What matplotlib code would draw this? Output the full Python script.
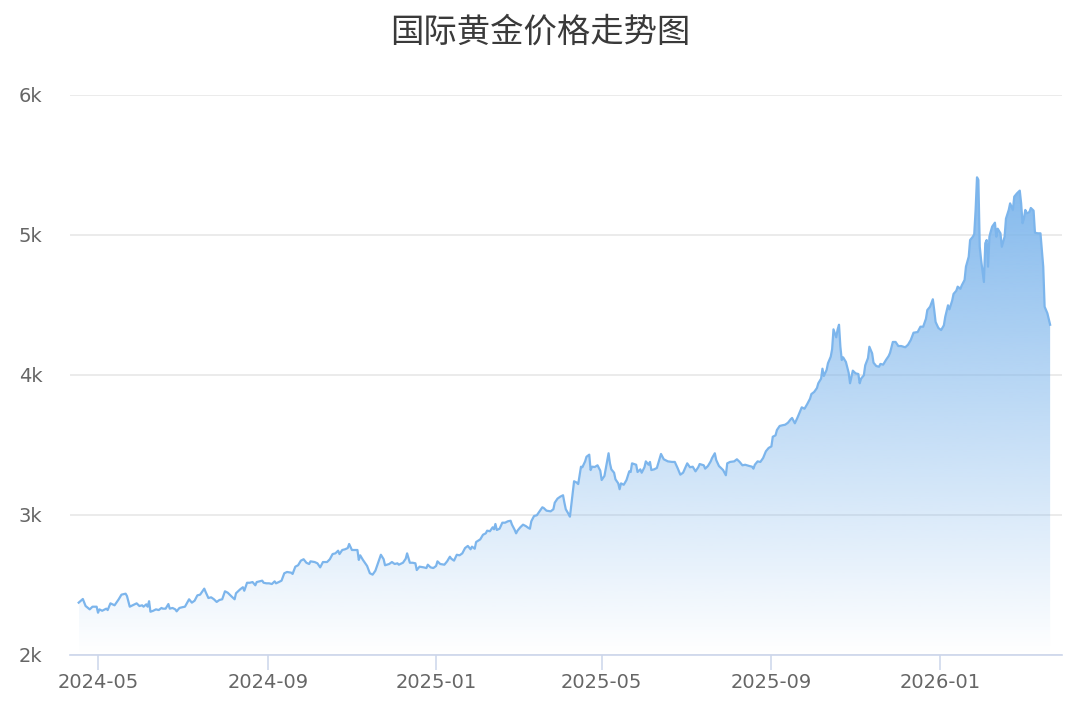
import numpy as np
import pandas as pd
import matplotlib
matplotlib.use('Agg')
import matplotlib.pyplot as plt
import matplotlib.dates as mdates
from matplotlib.patches import PathPatch

plt.rcParams['font.family'] = ['Noto Sans CJK SC', 'DejaVu Sans']

# 国际金价 (美元/盎司), values
dates = [
    "2024-04-17", "2024-04-20", "2024-04-22", "2024-04-25", "2024-04-27", "2024-04-30",
    "2024-05-01", "2024-05-02", "2024-05-04", "2024-05-07", "2024-05-08", "2024-05-10", "2024-05-13", "2024-05-15", "2024-05-16", "2024-05-18", "2024-05-21", "2024-05-22", "2024-05-24", "2024-05-27", "2024-05-29", "2024-05-31",
    "2024-06-02", "2024-06-03", "2024-06-05", "2024-06-06", "2024-06-07", "2024-06-08", "2024-06-10", "2024-06-12", "2024-06-14", "2024-06-16", "2024-06-17", "2024-06-19", "2024-06-21", "2024-06-22", "2024-06-24", "2024-06-26", "2024-06-27", "2024-06-29",
    "2024-07-01", "2024-07-03", "2024-07-06", "2024-07-08", "2024-07-10", "2024-07-12", "2024-07-14", "2024-07-17", "2024-07-18", "2024-07-20", "2024-07-22", "2024-07-24", "2024-07-26", "2024-07-28", "2024-07-30",
    "2024-08-01", "2024-08-03", "2024-08-06", "2024-08-08", "2024-08-09", "2024-08-12", "2024-08-14", "2024-08-15", "2024-08-17", "2024-08-19", "2024-08-21", "2024-08-23", "2024-08-24", "2024-08-26", "2024-08-28", "2024-08-29", "2024-08-31",
    "2024-09-02", "2024-09-04", "2024-09-06", "2024-09-07", "2024-09-09", "2024-09-11", "2024-09-13", "2024-09-15", "2024-09-18", "2024-09-19", "2024-09-21", "2024-09-23", "2024-09-25", "2024-09-27", "2024-09-29",
    "2024-10-01", "2024-10-02", "2024-10-05", "2024-10-07", "2024-10-09", "2024-10-11", "2024-10-14", "2024-10-16", "2024-10-18", "2024-10-20", "2024-10-22", "2024-10-23", "2024-10-25", "2024-10-27", "2024-10-29", "2024-10-30",
    "2024-11-01", "2024-11-03", "2024-11-05", "2024-11-06", "2024-11-07", "2024-11-09", "2024-11-12", "2024-11-14", "2024-11-16", "2024-11-18", "2024-11-20", "2024-11-22", "2024-11-24", "2024-11-25", "2024-11-28", "2024-11-30",
    "2024-12-02", "2024-12-04", "2024-12-05", "2024-12-08", "2024-12-10", "2024-12-11", "2024-12-13", "2024-12-15", "2024-12-17", "2024-12-18", "2024-12-20", "2024-12-23", "2024-12-25", "2024-12-26", "2024-12-28", "2024-12-30",
    "2025-01-01", "2025-01-02", "2025-01-04", "2025-01-07", "2025-01-09", "2025-01-11", "2025-01-12", "2025-01-14", "2025-01-16", "2025-01-18", "2025-01-20", "2025-01-22", "2025-01-24", "2025-01-26", "2025-01-27", "2025-01-29", "2025-01-30",
    "2025-02-02", "2025-02-04", "2025-02-06", "2025-02-07", "2025-02-09", "2025-02-11", "2025-02-12", "2025-02-13", "2025-02-14", "2025-02-16", "2025-02-18", "2025-02-20", "2025-02-22", "2025-02-24", "2025-02-25", "2025-02-27", "2025-02-28",
    "2025-03-01", "2025-03-03", "2025-03-05", "2025-03-07", "2025-03-09", "2025-03-10", "2025-03-11", "2025-03-13", "2025-03-15", "2025-03-17", "2025-03-19", "2025-03-20", "2025-03-22", "2025-03-25", "2025-03-27", "2025-03-28", "2025-03-30",
    "2025-04-01", "2025-04-03", "2025-04-04", "2025-04-05", "2025-04-07", "2025-04-08", "2025-04-10", "2025-04-11", "2025-04-13", "2025-04-14", "2025-04-16", "2025-04-17", "2025-04-19", "2025-04-20", "2025-04-22", "2025-04-23", "2025-04-24", "2025-04-26", "2025-04-28", "2025-04-30",
    "2025-05-01", "2025-05-03", "2025-05-06", "2025-05-07", "2025-05-08", "2025-05-10", "2025-05-11", "2025-05-13", "2025-05-14", "2025-05-15", "2025-05-17", "2025-05-19", "2025-05-21", "2025-05-22", "2025-05-23", "2025-05-26", "2025-05-27", "2025-05-29", "2025-05-30",
    "2025-06-01", "2025-06-02", "2025-06-04", "2025-06-05", "2025-06-06", "2025-06-08", "2025-06-10", "2025-06-13", "2025-06-15", "2025-06-18", "2025-06-21", "2025-06-23", "2025-06-25", "2025-06-27", "2025-06-29",
    "2025-07-02", "2025-07-04", "2025-07-06", "2025-07-08", "2025-07-10", "2025-07-11", "2025-07-14", "2025-07-15", "2025-07-17", "2025-07-19", "2025-07-20", "2025-07-22", "2025-07-23", "2025-07-25", "2025-07-27", "2025-07-28", "2025-07-30", "2025-07-31",
    "2025-08-02", "2025-08-05", "2025-08-07", "2025-08-09", "2025-08-11", "2025-08-13", "2025-08-16", "2025-08-18", "2025-08-19", "2025-08-20", "2025-08-22", "2025-08-24", "2025-08-26", "2025-08-28", "2025-08-30",
    "2025-09-01", "2025-09-02", "2025-09-04", "2025-09-05", "2025-09-07", "2025-09-09", "2025-09-11", "2025-09-13", "2025-09-15", "2025-09-16", "2025-09-18", "2025-09-20", "2025-09-22", "2025-09-23", "2025-09-25", "2025-09-27", "2025-09-29", "2025-09-30",
    "2025-10-02", "2025-10-04", "2025-10-05", "2025-10-07", "2025-10-08", "2025-10-09", "2025-10-11", "2025-10-12", "2025-10-14", "2025-10-15", "2025-10-16", "2025-10-18", "2025-10-19", "2025-10-20", "2025-10-21", "2025-10-22", "2025-10-23", "2025-10-25", "2025-10-27", "2025-10-28", "2025-10-30",
    "2025-11-01", "2025-11-03", "2025-11-04", "2025-11-05", "2025-11-07", "2025-11-08", "2025-11-10", "2025-11-11", "2025-11-13", "2025-11-14", "2025-11-16", "2025-11-18", "2025-11-19", "2025-11-21", "2025-11-23", "2025-11-25", "2025-11-26", "2025-11-28", "2025-11-30",
    "2025-12-02", "2025-12-04", "2025-12-07", "2025-12-09", "2025-12-11", "2025-12-13", "2025-12-16", "2025-12-18", "2025-12-20", "2025-12-22", "2025-12-23", "2025-12-25", "2025-12-27", "2025-12-28", "2025-12-29", "2025-12-31",
    "2026-01-02", "2026-01-04", "2026-01-05", "2026-01-07", "2026-01-08", "2026-01-10", "2026-01-11", "2026-01-13", "2026-01-14", "2026-01-16", "2026-01-17", "2026-01-19", "2026-01-20", "2026-01-22", "2026-01-23", "2026-01-25", "2026-01-26", "2026-01-27", "2026-01-28", "2026-01-29", "2026-01-30", "2026-01-31",
    "2026-02-02", "2026-02-03", "2026-02-04", "2026-02-05", "2026-02-06", "2026-02-07", "2026-02-08", "2026-02-10", "2026-02-11", "2026-02-12", "2026-02-14", "2026-02-15", "2026-02-17", "2026-02-18", "2026-02-20", "2026-02-21", "2026-02-23", "2026-02-24", "2026-02-26", "2026-02-28",
    "2026-03-01", "2026-03-02", "2026-03-03", "2026-03-04", "2026-03-05", "2026-03-07", "2026-03-08", "2026-03-10", "2026-03-11", "2026-03-13", "2026-03-15", "2026-03-17", "2026-03-18", "2026-03-20", "2026-03-22",
]

prices = [
    2374, 2400, 2350, 2326, 2345, 2345,
    2302, 2326, 2316, 2331, 2321, 2369, 2355, 2384, 2398, 2431, 2438, 2421, 2345, 2359, 2369, 2350,
    2355, 2345, 2362, 2345, 2384, 2309, 2316, 2326, 2321, 2336, 2331, 2331, 2364, 2331, 2336, 2326, 2312, 2336,
    2341, 2345, 2398, 2374, 2388, 2426, 2431, 2474, 2450, 2407, 2412, 2398, 2379, 2393, 2398,
    2455, 2445, 2416, 2398, 2441, 2469, 2484, 2459, 2516, 2516, 2521, 2498, 2521, 2526, 2531, 2516, 2512,
    2512, 2507, 2526, 2512, 2521, 2531, 2584, 2593, 2588, 2579, 2631, 2641, 2674, 2684, 2659,
    2650, 2669, 2664, 2655, 2626, 2664, 2664, 2684, 2721, 2726, 2745, 2721, 2750, 2755, 2764, 2793,
    2750, 2750, 2750, 2679, 2712, 2679, 2636, 2584, 2574, 2602, 2659, 2716, 2684, 2641, 2650, 2664,
    2650, 2655, 2645, 2659, 2688, 2726, 2659, 2659, 2655, 2607, 2631, 2626, 2621, 2645, 2626, 2621,
    2636, 2669, 2650, 2645, 2669, 2702, 2688, 2674, 2716, 2712, 2726, 2764, 2779, 2755, 2774, 2759, 2807,
    2826, 2859, 2869, 2888, 2884, 2912, 2898, 2936, 2893, 2902, 2945, 2945, 2955, 2959, 2931, 2893, 2869,
    2888, 2912, 2931, 2921, 2907, 2902, 2955, 2993, 2998, 3026, 3055, 3050, 3031, 3026, 3041, 3088, 3117,
    3131, 3141, 3088, 3041, 3007, 2988, 3155, 3241, 3231, 3221, 3345, 3341, 3383, 3416, 3431, 3321, 3345, 3343, 3355, 3316,
    3250, 3279, 3441, 3369, 3326, 3302, 3255, 3226, 3184, 3226, 3216, 3250, 3312, 3307, 3369, 3359, 3307, 3326, 3302,
    3341, 3383, 3359, 3379, 3321, 3326, 3336, 3436, 3398, 3383, 3379, 3379, 3336, 3288, 3302,
    3369, 3341, 3345, 3312, 3341, 3364, 3355, 3331, 3350, 3383, 3407, 3441, 3393, 3350, 3331, 3321, 3284, 3369,
    3379, 3383, 3398, 3379, 3355, 3359, 3350, 3345, 3331, 3359, 3383, 3379, 3407, 3455, 3479,
    3490, 3559, 3569, 3607, 3636, 3641, 3645, 3659, 3684, 3693, 3655, 3698, 3745, 3769, 3759, 3793, 3831, 3864,
    3879, 3907, 3941, 3974, 4045, 3993, 4036, 4084, 4131, 4184, 4326, 4269, 4326, 4359, 4202, 4107, 4126, 4093, 4016, 3941, 4031,
    4012, 4007, 3941, 3974, 3998, 4069, 4121, 4202, 4155, 4088, 4064, 4059, 4079, 4074, 4107, 4136, 4159, 4236, 4236,
    4207, 4207, 4198, 4216, 4250, 4302, 4307, 4345, 4345, 4402, 4464, 4488, 4541, 4464, 4379, 4336,
    4321, 4355, 4416, 4498, 4469, 4531, 4579, 4602, 4631, 4616, 4641, 4679, 4774, 4845, 4964, 4988, 5007, 5179, 5412, 5393, 4916, 4821,
    4664, 4941, 4964, 4774, 4988, 5026, 5060, 5088, 4988, 5045, 5012, 4916, 4988, 5117, 5179, 5226, 5179, 5274, 5298, 5317,
    5226, 5084, 5117, 5179, 5155, 5164, 5193, 5174, 5017, 5012, 5012, 4774, 4488, 4441, 4359,
]

y_ticks = [2000, 3000, 4000, 5000, 6000]
y_labels = ["2k", "3k", "4k", "5k", "6k"]
x_ticks = ["2024-05-01", "2024-09-01", "2025-01-01", "2025-05-01", "2025-09-01", "2026-01-01"]

title = "国际黄金价格走势图"

line_color = '#7cb5ec'
label_color = '#666666'
axis_color = '#ccd6eb'
grid_color = '#e6e6e6'

x = mdates.date2num(pd.to_datetime(dates))
y = np.array(prices, dtype=float)

fig = plt.figure(figsize=(10.8, 7.2), dpi=100)
ax = fig.add_axes([70 / 1080, 1 - 655 / 720, 992 / 1080, 560 / 720])

y0 = 2000
# area under the line, gradient fill clipped to the polygon
area = ax.fill_between(x, y, y0, facecolor='none', edgecolor='none')
clip = PathPatch(area.get_paths()[0], transform=ax.transData,
                 facecolor='none', edgecolor='none')
ax.add_patch(clip)

rgb = matplotlib.colors.to_rgb(line_color)
grad = np.zeros((256, 1, 4))
grad[:, 0, 0] = rgb[0]
grad[:, 0, 1] = rgb[1]
grad[:, 0, 2] = rgb[2]
grad[:, 0, 3] = np.linspace(0.0, 0.95, 256)
im = ax.imshow(grad, extent=[x.min(), x.max(), y0, y.max()], origin='lower',
               aspect='auto', zorder=2, interpolation='bilinear')
im.set_clip_path(clip)

ax.plot(x, y, color=line_color, lw=1.6, zorder=3, solid_joinstyle='round')

base = mdates.date2num(pd.Timestamp("2024-05-01"))
ax.set_xlim(base - 20.3, base + 698.6)
ax.set_ylim(2000, 6000)

ax.set_yticks(y_ticks)
ax.set_yticklabels(y_labels)
ax.set_xticks(mdates.date2num(pd.to_datetime(x_ticks)))
ax.xaxis.set_major_formatter(mdates.DateFormatter('%Y-%m'))

ax.set_axisbelow(True)
ax.grid(axis='y', color=grid_color, lw=1.1, zorder=0)
for s in ['top', 'right', 'left']:
    ax.spines[s].set_visible(False)
ax.spines['bottom'].set_color(axis_color)
ax.spines['bottom'].set_linewidth(1.2)
ax.spines['bottom'].set_zorder(4)

ax.tick_params(axis='y', length=0, pad=20, labelsize=14, labelcolor=label_color)
ax.tick_params(axis='x', length=11, width=1.1, color=axis_color, pad=2,
               labelsize=14, labelcolor=label_color)
for lab in ax.get_xticklabels() + ax.get_yticklabels():
    lab.set_family('DejaVu Sans')

fig.text(0.5, 1 - 32 / 720, title, ha='center', va='center',
         fontsize=24, fontweight='light', color='#3a3a3a')

fig.savefig('out.png', dpi=100)
